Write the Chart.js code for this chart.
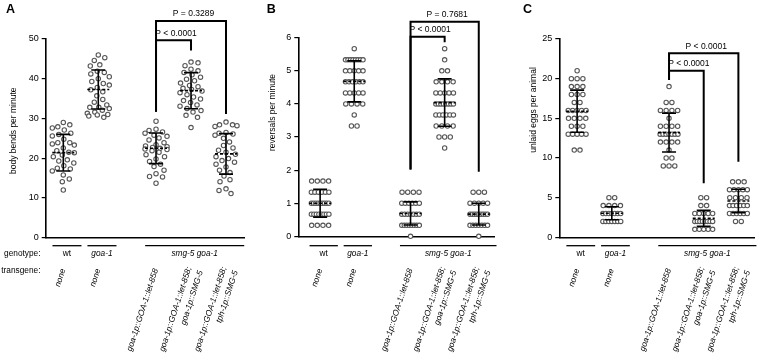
<!DOCTYPE html>
<html>
<head>
<meta charset="utf-8">
<script src="https://cdn.jsdelivr.net/npm/chart.js@4.4.1/dist/chart.umd.min.js"></script>
<style>
  html, body { margin: 0; padding: 0; background: #fff; }
  #wrap { position: relative; width: 760px; height: 354px; overflow: hidden; }
  canvas { position: absolute; top: 0; }
</style>
</head>
<body>
<div id="wrap">
  <canvas id="chartA" width="250" height="354" style="left:0px"></canvas>
  <canvas id="chartB" width="250" height="354" style="left:250px"></canvas>
  <canvas id="chartC" width="260" height="354" style="left:500px"></canvas>
</div>
<script>
const FONT = '"Liberation Sans", Arial, Helvetica, sans-serif';

// shared categories
const groupPositions = [1, 2, 3.65, 4.65, 5.65];
const genotypeLabels = ["wt", "goa-1", "smg-5 goa-1"];
const genotypeSpans = [[0, 0], [1, 1], [2, 4]];
const genotypeItalic = [false, true, true];
const transgeneLabels = [
    ["none"],
    ["none"],
    ["goa-1p::GOA-1::let-858"],
    ["goa-1p::GOA-1::let-858;", "goa-1p::SMG-5"],
    ["goa-1p::GOA-1::let-858;", "tph-1p::SMG-5"]
];

// A - body bends per minute
const bendsWt = [29.0, 28.4, 27.9, 27.6, 27.1, 26.3, 26.0, 25.6, 24.8, 23.9, 23.9, 23.6, 23.3, 22.6, 21.9,
    21.5, 21.4, 20.8, 20.4, 19.6, 19.3, 18.8, 18.1, 17.5, 17.3, 16.8, 15.8, 14.8, 14.1, 12.0];
const bendsGoa = [46.0, 45.3, 44.6, 43.5, 43.2, 41.9, 41.6, 41.2, 40.5, 40.0, 39.3, 38.8, 38.4, 37.8, 37.2,
    36.7, 35.7, 34.8, 34.1, 33.4, 32.8, 32.8, 32.5, 32.1, 31.6, 31.3, 31.0, 30.9, 30.6, 30.3];
const bendsRescue = [29.3, 27.3, 27.0, 26.6, 26.3, 25.8, 25.5, 25.1, 24.6, 23.9, 23.4, 23.1, 22.9, 22.7, 22.5,
    22.3, 22.2, 21.9, 21.5, 20.9, 20.4, 19.8, 19.2, 18.5, 17.9, 17.0, 16.1, 15.4, 15.3, 13.7];
const bendsSmg = [44.2, 44.0, 43.3, 42.4, 42.0, 41.6, 41.0, 40.4, 39.9, 39.5, 38.9, 38.3, 38.0, 37.6, 37.3,
    36.9, 36.5, 36.0, 35.4, 34.9, 34.5, 34.0, 33.4, 33.1, 32.5, 32.0, 31.6, 30.8, 30.3, 27.7];
const bendsTph = [29.1, 28.4, 28.4, 28.2, 28.0, 26.5, 26.3, 26.1, 25.8, 25.0, 24.1, 23.2, 22.6, 22.0, 21.5,
    21.0, 20.4, 19.9, 19.4, 19.0, 18.5, 17.8, 17.0, 16.4, 15.5, 14.6, 14.1, 12.3, 11.9, 11.1];
const bendsMean = [21.4, 37.3, 22.5, 37.0, 21.1];
const bendsSd = [4.6, 4.9, 3.85, 4.55, 5.1];

// B - reversals per minute
const revWt = [1.667, 1.667, 1.667, 1.667, 1.333, 1.333, 1.333, 1.333, 1.333, 1.333,
    1, 1, 1, 1, 1, 1, 1, 1, 1, 0.667, 0.667, 0.667, 0.667, 0.667, 0.667, 0.667, 0.667,
    0.333, 0.333, 0.333, 0.333];
const revGoa = [5.667, 5.333, 5.333, 5.333, 5.333, 5.333, 5.333, 5.333, 5.333, 5, 5, 5, 5, 5,
    4.667, 4.667, 4.667, 4.667, 4.667, 4.667, 4.333, 4.333, 4.333, 4.333, 4.333,
    4, 4, 4, 4, 3.667, 3.333, 3.333];
const revRescue = [1.333, 1.333, 1.333, 1.333, 1, 1, 1, 1, 1, 1,
    0.667, 0.667, 0.667, 0.667, 0.667, 0.667, 0.667,
    0.333, 0.333, 0.333, 0.333, 0.333, 0.333, 0.333, 0.333, 0];
const revSmg = [5.667, 5.333, 5, 5, 4.667, 4.667, 4.667, 4.667, 4.333, 4.333, 4.333, 4.333, 4.333,
    4, 4, 4, 4, 4, 4, 4, 4, 3.667, 3.667, 3.667, 3.667, 3.667, 3.667,
    3.333, 3.333, 3.333, 3.333, 3, 3, 3, 2.667];
const revTph = [1.333, 1.333, 1.333, 1, 1, 1, 1, 1,
    0.667, 0.667, 0.667, 0.667, 0.667, 0.667, 0.667, 0.667, 0.667,
    0.333, 0.333, 0.333, 0.333, 0.333, 0.333, 0.333, 0];
const revMean = [1.0, 4.68, 0.69, 4.04, 0.67];
const revSd = [0.42, 0.62, 0.35, 0.715, 0.33];

// C - unlaid eggs per animal
const eggsWt = [21, 20, 20, 20, 19, 19, 19, 18, 18, 18, 17, 17, 16, 16, 16, 16, 16,
    15, 15, 15, 15, 14, 14, 14, 13, 13, 13, 13, 13, 11, 11];
const eggsGoa = [5, 5, 4, 4, 4, 4, 3, 3, 3, 3, 3, 3, 3, 2, 2, 2, 2, 2, 2, 2];
const eggsRescue = [19, 17, 17, 16, 16, 16, 16, 15, 14, 14, 14, 14, 13, 13, 13, 13, 13, 13, 13,
    12, 12, 12, 12, 11, 10, 10, 9, 9, 9];
const eggsSmg = [5, 5, 4, 4, 3, 3, 3, 3, 3, 2, 2, 2, 2, 2, 2, 2, 2, 1, 1, 1, 1, 1];
const eggsTph = [7, 7, 7, 6, 6, 6, 6, 6, 5, 5, 5, 5, 4, 4, 4, 4, 4, 4, 3, 3, 3, 3, 3, 3, 2, 2];
const eggsMean = [15.9, 3.03, 13.2, 2.39, 4.58];
const eggsSd = [2.65, 0.82, 2.45, 1.0, 1.47];

// significance brackets: [from group, to group, bar level, left foot, right foot, text]
const bendsBrackets = [[2, 4, 54.5, 31.7, 31.1, "P = 0.3289"], [2, 3, 49.7, 31.7, 47.1, "P < 0.0001"]];
const revBrackets = [[2, 4, 6.48, 2.02, 1.95, "P = 0.7681"], [2, 3, 6.03, 2.02, 5.86, "P < 0.0001"]];
const eggsBrackets = [[2, 4, 23.2, 19.84, 9.53, "P < 0.0001"], [2, 3, 21.0, 19.84, 6.81, "P < 0.0001"]];

Chart.defaults.font.family = FONT;

// points with equal values sit in one row, spread sideways
function rowOffsets(vals, pxX){
    let rows = {};
    vals.forEach((v, i)=>{ (rows[v] = rows[v] || []).push(i); });
    let off = new Array(vals.length).fill(0);
    Object.values(rows).forEach(idx=>{
        let n = idx.length;
        let gap = n > 1 ? Math.min(5.8, 18 / (n - 1)) : 0;
        idx.forEach((i, k)=>{ off[i] = (k - (n - 1) / 2) * gap / pxX; });
    });
    return off;
}

// simple beeswarm for continuous values
function swarmOffsets(vals, pxX, pxY){
    let order = vals.map((v, i)=>i).sort((a, b)=>vals[b] - vals[a]);
    let placed = [];
    let off = new Array(vals.length).fill(0);
    let d = 6.8;
    order.forEach((i, n)=>{
        let y = vals[i] * pxY;
        let best = 0, bestScore = Infinity;
        let sign = n % 2 ? 1 : -1;
        for(let s = 0; s <= 11; s += 0.5){
            for(let c of [s * sign, -s * sign]){
                let score = Math.abs(c);
                placed.forEach(p=>{
                    let dist = Math.hypot(p.x - c, p.y - y);
                    if(dist < d) score += 100 + (d - dist) * 20;
                });
                if(score < bestScore){ bestScore = score; best = c; }
            }
        }
        placed.push({x: best, y});
        off[i] = best / pxX;
    });
    return off;
}

function makePanel(p){
    const W = p.width, H = 354;
    const pxX = (p.area.right - p.area.left) / (p.xMax - p.xMin);
    const pxY = (p.area.bottom - p.area.top) / p.yMax;

    let datasets = p.series.map((vals, g)=>{
        let off = p.discrete ? rowOffsets(vals, pxX) : swarmOffsets(vals, pxX, pxY);
        return {
            data: vals.map((v, i)=>({x: groupPositions[g] + off[i], y: v})),
            pointRadius: 2.2,
            pointBorderWidth: 1.1,
            borderColor: '#555',
            backgroundColor: '#fff',
            pointBorderColor: '#555',
            pointBackgroundColor: '#fff',
            showLine: false,
            clip: false
        };
    });

    const panelPlugin = {
        id: 'panel' + p.letter,
        afterDatasetsDraw(chart){
            const {ctx, scales: {x, y}} = chart;
            ctx.save();
            ctx.strokeStyle = '#000';
            ctx.lineWidth = 1.6;
            p.means.forEach((m, i)=>{
                let px = x.getPixelForValue(groupPositions[i]);
                let yt = y.getPixelForValue(m + p.sds[i]);
                let yb = y.getPixelForValue(m - p.sds[i]);
                let ym = y.getPixelForValue(m);
                ctx.setLineDash([]);
                ctx.beginPath();
                ctx.moveTo(px, yt); ctx.lineTo(px, yb);
                ctx.moveTo(px - 7, yt); ctx.lineTo(px + 7, yt);
                ctx.moveTo(px - 7, yb); ctx.lineTo(px + 7, yb);
                ctx.stroke();
                ctx.setLineDash([3, 2]);
                ctx.beginPath();
                ctx.moveTo(px - 11, ym); ctx.lineTo(px + 11, ym);
                ctx.stroke();
            });
            ctx.restore();
        },
        afterDraw(chart){
            const {ctx, scales: {x, y}} = chart;
            ctx.save();
            ctx.fillStyle = '#000';
            ctx.strokeStyle = '#000';

            // brackets
            ctx.lineWidth = 2;
            p.brackets.forEach(b=>{
                let x1 = x.getPixelForValue(groupPositions[b[0]]);
                let x2 = x.getPixelForValue(groupPositions[b[1]]);
                let yl = y.getPixelForValue(b[2]);
                ctx.beginPath();
                ctx.moveTo(x1, y.getPixelForValue(b[3]));
                ctx.lineTo(x1, yl);
                ctx.lineTo(x2, yl);
                ctx.lineTo(x2, y.getPixelForValue(b[4]));
                ctx.stroke();
                ctx.font = `8.5px ${FONT}`;
                ctx.textAlign = 'center';
                ctx.textBaseline = 'middle';
                ctx.fillText(b[5], (x1 + x2) / 2 + 2.5, yl - 7);
            });

            // panel letter
            ctx.font = `bold 12.5px ${FONT}`;
            ctx.textAlign = 'left';
            ctx.textBaseline = 'alphabetic';
            ctx.fillText(p.letter, p.letterX, 13);

            // y title
            ctx.save();
            ctx.translate(p.titleX, p.titleY);
            ctx.rotate(-Math.PI / 2);
            ctx.font = `8.5px ${FONT}`;
            ctx.textAlign = 'center';
            ctx.textBaseline = 'middle';
            ctx.fillText(p.yTitle, 0, 0);
            ctx.restore();

            // genotype underlines and names
            ctx.lineWidth = 1.3;
            genotypeSpans.forEach((sp, k)=>{
                let xa = x.getPixelForValue(groupPositions[sp[0]] - 0.31);
                let xb = x.getPixelForValue(groupPositions[sp[1]] + 0.52);
                ctx.beginPath();
                ctx.moveTo(xa, 245.7); ctx.lineTo(xb, 245.7);
                ctx.stroke();
                ctx.font = `${genotypeItalic[k] ? 'italic ' : ''}8.3px ${FONT}`;
                ctx.textAlign = 'center';
                ctx.textBaseline = 'middle';
                ctx.fillText(genotypeLabels[k], (xa + xb) / 2, 254);
            });

            // transgene labels, rotated
            transgeneLabels.forEach((lines, i)=>{
                let px = x.getPixelForValue(groupPositions[i]);
                ctx.save();
                ctx.translate(px + (lines.length > 1 ? 4 : 0), 269);
                ctx.rotate(-72 * Math.PI / 180);
                ctx.font = `italic 8.3px ${FONT}`;
                ctx.textAlign = 'right';
                ctx.textBaseline = 'middle';
                lines.forEach((t, k)=>{
                    ctx.fillText(t, 0, (k - (lines.length - 1) / 2) * 12);
                });
                ctx.restore();
            });

            if(p.rowLabels){
                ctx.font = `8.3px ${FONT}`;
                ctx.textAlign = 'right';
                ctx.textBaseline = 'middle';
                ctx.fillText("genotype:", 40.5, 254);
                ctx.fillText("transgene:", 40.5, 270.7);
            }
            ctx.restore();
        }
    };

    return new Chart(document.getElementById(p.id), {
        type: 'scatter',
        data: {datasets},
        options: {
            responsive: false,
            animation: false,
            layout: {padding: {left: 0, top: p.area.top, right: W - p.area.right, bottom: 0}},
            plugins: {legend: {display: false}, tooltip: {enabled: false}},
            scales: {
                x: {
                    type: 'linear',
                    min: p.xMin,
                    max: p.xMax,
                    ticks: {display: false},
                    grid: {display: false},
                    border: {display: true, color: '#000', width: 1.6},
                    afterFit: (s)=>{ s.height = H - p.area.bottom; }
                },
                y: {
                    min: 0,
                    max: p.yMax,
                    ticks: {stepSize: p.yStep, color: '#000', font: {size: 9}, padding: 3},
                    grid: {display: true, drawOnChartArea: false, drawTicks: true, tickLength: 4, color: '#000', lineWidth: 1.2},
                    border: {display: true, color: '#000', width: 1.6},
                    afterFit: (s)=>{ s.width = p.area.left; }
                }
            }
        },
        plugins: [panelPlugin]
    });
}

makePanel({
    id: 'chartA', letter: 'A', letterX: 6, width: 250,
    area: {left: 45.7, right: 245, top: 39, bottom: 237.7},
    xMin: 0.497, xMax: 6.19, yMax: 50, yStep: 10,
    yTitle: "body bends per minute", titleX: 13.3, titleY: 130.7,
    series: [bendsWt, bendsGoa, bendsRescue, bendsSmg, bendsTph],
    means: bendsMean, sds: bendsSd, brackets: bendsBrackets,
    discrete: false, rowLabels: true
});

makePanel({
    id: 'chartB', letter: 'B', letterX: 16.7, width: 250,
    area: {left: 48.3, right: 250, top: 37.7, bottom: 236.3},
    xMin: 0.36, xMax: 6.123, yMax: 6, yStep: 1,
    yTitle: "reversals per minute", titleX: 22.3, titleY: 112.5,
    series: [revWt, revGoa, revRescue, revSmg, revTph],
    means: revMean, sds: revSd, brackets: revBrackets,
    discrete: true, rowLabels: false
});

makePanel({
    id: 'chartC', letter: 'C', letterX: 23, width: 260,
    area: {left: 59.3, right: 256.7, top: 39, bottom: 237.3},
    xMin: 0.486, xMax: 6.126, yMax: 25, yStep: 5,
    yTitle: "unlaid eggs per animal", titleX: 33.3, titleY: 110,
    series: [eggsWt, eggsGoa, eggsRescue, eggsSmg, eggsTph],
    means: eggsMean, sds: eggsSd, brackets: eggsBrackets,
    discrete: true, rowLabels: false
});
</script>
</body>
</html>
